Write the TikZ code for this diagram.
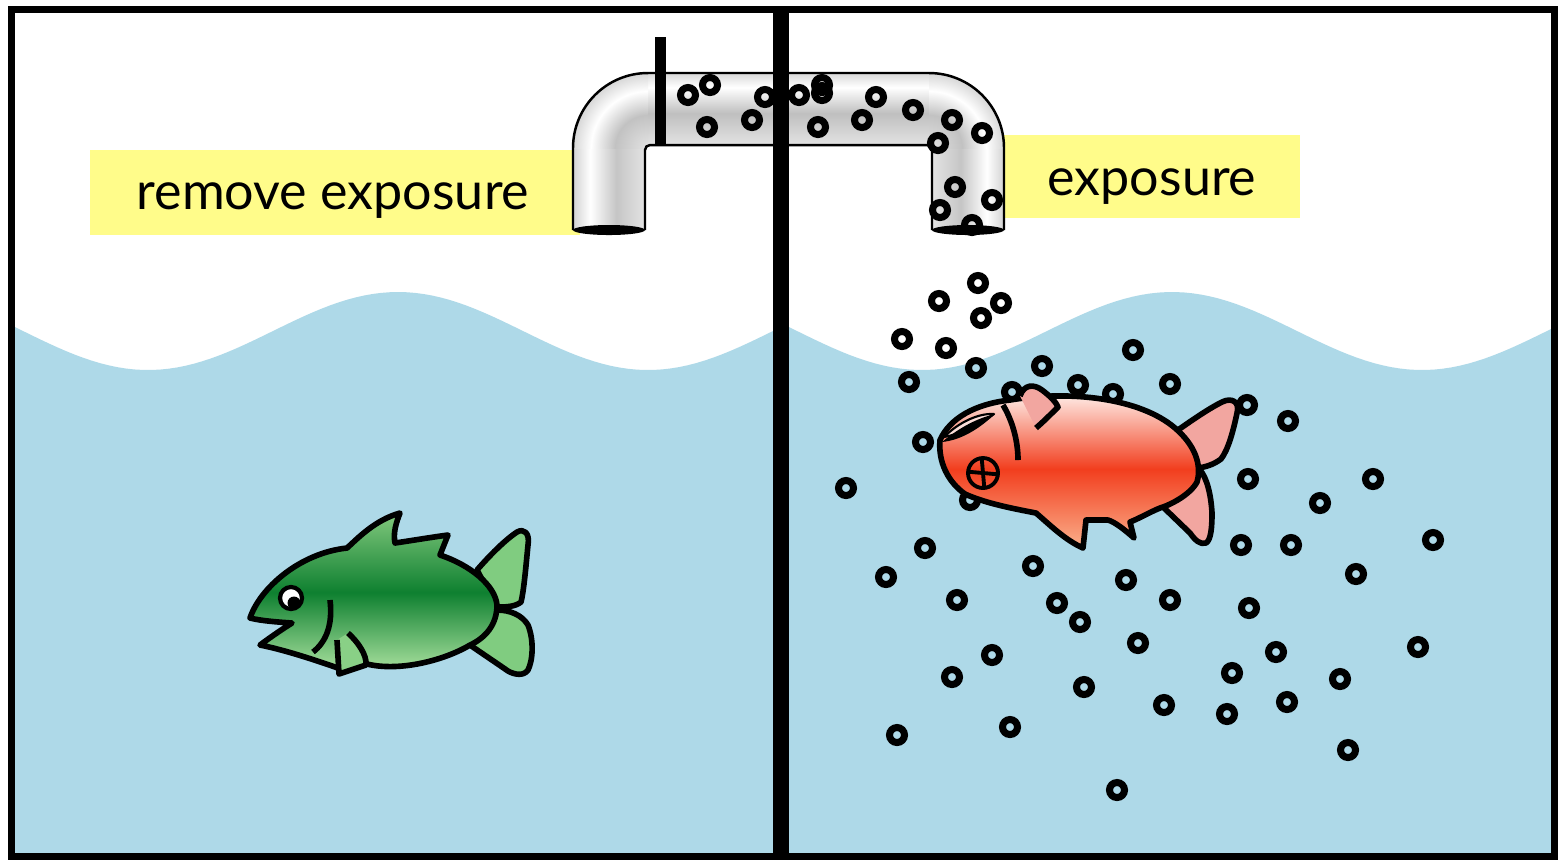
\documentclass[tikz,border=0pt]{standalone}
\usepackage{fontspec}
\setmainfont{Lato}
\usepackage{tikz}

\definecolor{water}{RGB}{174,217,232}
\definecolor{labelyellow}{RGB}{255,252,138}
\definecolor{greentop}{RGB}{130,200,125}
\definecolor{greenmid}{RGB}{14,128,48}
\definecolor{greenbottom}{RGB}{172,226,160}
\definecolor{greenfin}{RGB}{128,204,128}
\definecolor{redtop}{RGB}{255,246,242}
\definecolor{redmid}{RGB}{242,62,30}
\definecolor{redbottom}{RGB}{250,176,140}
\definecolor{pinkfin}{RGB}{242,166,160}

\pgfdeclareverticalshading{pipeflat}{100bp}{color(0bp)=(gray!22); color(25bp)=(gray!22); color(47bp)=(gray!50); color(65bp)=(white); color(75bp)=(gray!30); color(100bp)=(gray!30)}
\pgfdeclarehorizontalshading{pipeleft}{100bp}{color(0bp)=(gray!35); color(25bp)=(gray!35); color(37bp)=(white); color(55bp)=(gray!45); color(75bp)=(gray!22); color(100bp)=(gray!22)}
\pgfdeclarehorizontalshading{piperight}{100bp}{color(0bp)=(gray!22); color(25bp)=(gray!22); color(45bp)=(gray!45); color(63bp)=(white); color(75bp)=(gray!35); color(100bp)=(gray!35)}
\pgfdeclareradialshading{pipebend}{\pgfpoint{0bp}{0bp}}{color(0bp)=(gray!22); color(11bp)=(gray!48); color(19bp)=(white); color(25bp)=(gray!32); color(50bp)=(gray!32)}

\begin{document}
\begin{tikzpicture}[x=0.01cm, y=0.01cm]
\tikzstyle{every node}+=[inner sep=0pt]
\tikzstyle{bubble}=[black, line width=2pt]
\tikzstyle{fishline}=[black, line width=1.6pt, line join=round]
\tikzstyle{label}=[font=\fontsize{14.8}{18}\selectfont, anchor=base]
\useasboundingbox (0,0) rectangle (1558,-859);
\fill [white] (0,0) rectangle (1558,-859);
\fill [water] (15,-856) -- plot[domain=15:773, samples=90] (\x, {-331+39*cos(0.72*(\x-398))}) -- (773,-856) -- cycle;
\fill [water] (789,-856) -- plot[domain=789:1554, samples=90] (\x, {-331+39*cos(0.72*(\x-1172))}) -- (1554,-856) -- cycle;
\fill [labelyellow] (90,-150) rectangle (580,-235);
\fill [labelyellow] (1000,-135) rectangle (1300,-218);
\node [label] (removelabel) at (333,-209) {remove exposure};
\node [label] (exposurelabel) at (1152,-195) {exposure};
\begin{scope}
\clip (573,-230) -- (573,-148) arc (180:90:75) -- (929,-73) arc (90:0:75) -- (1004,-230) -- (932,-230) -- (932,-150) arc (0:90:5) -- (650,-145) arc (90:180:5) -- (645,-230) -- cycle;
\shade [shading=pipeflat] (648,-73) rectangle (929,-145);
\shade [shading=pipeleft] (573,-148) rectangle (645,-235);
\shade [shading=piperight] (932,-148) rectangle (1004,-235);
\begin{scope}
\clip (573,-73) rectangle (648,-148);
\shade [shading=pipebend] (648,-148) circle (75);
\end{scope}
\begin{scope}
\clip (929,-73) rectangle (1004,-148);
\shade [shading=pipebend] (929,-148) circle (75);
\end{scope}
\end{scope}
\draw [bubble] (688,-95) circle (7.5);
\draw [bubble] (710,-85) circle (7.5);
\draw [bubble] (707,-127) circle (7.5);
\draw [bubble] (752,-120) circle (7.5);
\draw [bubble] (765,-97) circle (7.5);
\draw [bubble] (799,-95) circle (7.5);
\draw [bubble] (822,-85) circle (7.5);
\draw [bubble] (822,-93) circle (7.5);
\draw [bubble] (818,-127) circle (7.5);
\draw [bubble] (862,-120) circle (7.5);
\draw [bubble] (876,-97) circle (7.5);
\draw [bubble] (913,-110) circle (7.5);
\draw [bubble] (952,-120) circle (7.5);
\draw [bubble] (982,-133) circle (7.5);
\draw [bubble] (938,-143) circle (7.5);
\draw [bubble] (955,-187) circle (7.5);
\draw [bubble] (940,-210) circle (7.5);
\draw [bubble] (992,-200) circle (7.5);
\draw [bubble] (972,-225) circle (7.5);
\fill [black] (609,-230) ellipse (36 and 5);
\fill [black] (968,-230) ellipse (36 and 5);
\draw [black, line width=0.7pt] (573,-230) -- (573,-148) arc (180:90:75) -- (929,-73) arc (90:0:75) -- (1004,-230);
\draw [black, line width=0.7pt] (932,-230) -- (932,-150) arc (0:90:5) -- (650,-145) arc (90:180:5) -- (645,-230);
\draw [bubble] (978,-283) circle (7.5);
\draw [bubble] (939,-301) circle (7.5);
\draw [bubble] (1001,-303) circle (7.5);
\draw [bubble] (981,-318) circle (7.5);
\draw [bubble] (902,-339) circle (7.5);
\draw [bubble] (946,-348) circle (7.5);
\draw [bubble] (1133,-350) circle (7.5);
\draw [bubble] (976,-368) circle (7.5);
\draw [bubble] (1042,-366) circle (7.5);
\draw [bubble] (909,-382) circle (7.5);
\draw [bubble] (1078,-385) circle (7.5);
\draw [bubble] (1170,-384) circle (7.5);
\draw [bubble] (1012,-392) circle (7.5);
\draw [bubble] (1113,-394) circle (7.5);
\draw [bubble] (1247,-405) circle (7.5);
\draw [bubble] (1288,-421) circle (7.5);
\draw [bubble] (923,-442) circle (7.5);
\draw [bubble] (970,-500) circle (7.5);
\draw [bubble] (846,-488) circle (7.5);
\draw [bubble] (1248,-479) circle (7.5);
\draw [bubble] (1373,-479) circle (7.5);
\draw [bubble] (1320,-503) circle (7.5);
\draw [bubble] (925,-548) circle (7.5);
\draw [bubble] (1241,-545) circle (7.5);
\draw [bubble] (1291,-545) circle (7.5);
\draw [bubble] (1433,-540) circle (7.5);
\draw [bubble] (886,-577) circle (7.5);
\draw [bubble] (1033,-566) circle (7.5);
\draw [bubble] (1126,-580) circle (7.5);
\draw [bubble] (1356,-574) circle (7.5);
\draw [bubble] (957,-600) circle (7.5);
\draw [bubble] (1057,-603) circle (7.5);
\draw [bubble] (1170,-600) circle (7.5);
\draw [bubble] (1249,-608) circle (7.5);
\draw [bubble] (1080,-622) circle (7.5);
\draw [bubble] (1138,-643) circle (7.5);
\draw [bubble] (1276,-652) circle (7.5);
\draw [bubble] (1418,-647) circle (7.5);
\draw [bubble] (992,-655) circle (7.5);
\draw [bubble] (952,-677) circle (7.5);
\draw [bubble] (1232,-673) circle (7.5);
\draw [bubble] (1340,-679) circle (7.5);
\draw [bubble] (1084,-687) circle (7.5);
\draw [bubble] (1164,-705) circle (7.5);
\draw [bubble] (1287,-702) circle (7.5);
\draw [bubble] (1227,-714) circle (7.5);
\draw [bubble] (1010,-727) circle (7.5);
\draw [bubble] (897,-735) circle (7.5);
\draw [bubble] (1348,-750) circle (7.5);
\draw [bubble] (1117,-790) circle (7.5);
\filldraw [fishline, fill=greenfin] (477,-570) .. controls (490,-555) and (505,-540) .. (517,-532) .. controls (524,-528) and (530,-533) .. (528,-545) .. controls (526,-565) and (524,-590) .. (521,-602) .. controls (515,-607) and (505,-607) .. (497,-607) -- cycle;
\filldraw [fishline, fill=greenfin] (497,-610) .. controls (510,-610) and (522,-615) .. (528,-625) .. controls (534,-640) and (533,-660) .. (528,-670) .. controls (524,-676) and (515,-675) .. (508,-671) .. controls (495,-662) and (480,-652) .. (470,-645) -- cycle;
\shade [top color=greentop, bottom color=greenbottom, middle color=greenmid] (250,-618) .. controls (260,-588) and (300,-553) .. (347,-548) .. controls (358,-538) and (375,-520) .. (400,-513) .. controls (396,-523) and (393,-533) .. (395,-543) .. controls (415,-540) and (433,-537) .. (448,-535) -- (440,-555) .. controls (470,-565) and (495,-585) .. (497,-605) .. controls (497,-625) and (485,-638) .. (470,-645) .. controls (445,-660) and (400,-672) .. (367,-664) -- (338,-668) .. controls (315,-660) and (285,-650) .. (260,-645) .. controls (272,-636) and (284,-628) .. (292,-623) .. controls (278,-622) and (262,-621) .. cycle;
\draw [fishline] (250,-618) .. controls (260,-588) and (300,-553) .. (347,-548) .. controls (358,-538) and (375,-520) .. (400,-513) .. controls (396,-523) and (393,-533) .. (395,-543) .. controls (415,-540) and (433,-537) .. (448,-535) -- (440,-555) .. controls (470,-565) and (495,-585) .. (497,-605) .. controls (497,-625) and (485,-638) .. (470,-645) .. controls (445,-660) and (400,-672) .. (367,-664) -- (338,-668) .. controls (315,-660) and (285,-650) .. (260,-645) .. controls (272,-636) and (284,-628) .. (292,-623) .. controls (278,-622) and (262,-621) .. cycle;
\fill [greenfin!80!greenbottom] (348,-633) .. controls (358,-642) and (367,-655) .. (366,-665) -- (339,-674) -- (337,-640);
\draw [fishline] (348,-633) .. controls (358,-642) and (367,-655) .. (366,-665) -- (339,-674) -- (337,-640);
\draw [fishline] (330,-600) .. controls (333,-625) and (326,-642) .. (313,-652);
\filldraw [fishline, fill=white, line width=1.2pt] (291,-598) circle (11);
\fill [black] (294,-603) circle (6.5);
\filldraw [fishline, fill=pinkfin] (1178,-430) .. controls (1195,-418) and (1210,-408) .. (1222,-402) .. controls (1232,-397) and (1240,-402) .. (1237,-413) .. controls (1233,-432) and (1228,-450) .. (1221,-459) .. controls (1213,-465) and (1205,-467) .. (1198,-468) -- cycle;
\filldraw [fishline, fill=pinkfin] (1200,-470) .. controls (1207,-478) and (1211,-495) .. (1212,-513) .. controls (1212,-527) and (1211,-540) .. (1206,-543) .. controls (1200,-545) and (1195,-540) .. (1190,-533) -- (1163,-507) -- cycle;
\shade [top color=redtop, bottom color=redbottom, middle color=redmid] (940,-440) .. controls (950,-418) and (975,-404) .. (1010,-400) .. controls (1070,-390) and (1140,-398) .. (1175,-428) .. controls (1195,-445) and (1202,-465) .. (1197,-482) .. controls (1190,-495) and (1170,-505) .. (1160,-508) .. controls (1150,-512) and (1140,-518) .. (1130,-522) -- (1134,-538) .. controls (1125,-530) and (1115,-522) .. (1108,-520) -- (1086,-520) -- (1083,-548) .. controls (1065,-540) and (1050,-525) .. (1036,-513) .. controls (1010,-508) and (985,-503) .. (965,-494) .. controls (948,-482) and (938,-462) .. cycle;
\draw [fishline] (940,-440) .. controls (950,-418) and (975,-404) .. (1010,-400) .. controls (1070,-390) and (1140,-398) .. (1175,-428) .. controls (1195,-445) and (1202,-465) .. (1197,-482) .. controls (1190,-495) and (1170,-505) .. (1160,-508) .. controls (1150,-512) and (1140,-518) .. (1130,-522) -- (1134,-538) .. controls (1125,-530) and (1115,-522) .. (1108,-520) -- (1086,-520) -- (1083,-548) .. controls (1065,-540) and (1050,-525) .. (1036,-513) .. controls (1010,-508) and (985,-503) .. (965,-494) .. controls (948,-482) and (938,-462) .. cycle;
\fill [pinkfin] (1020,-396) .. controls (1024,-384) and (1034,-384) .. (1042,-390) .. controls (1050,-396) and (1056,-402) .. (1058,-407) .. controls (1050,-415) and (1043,-422) .. (1036,-428);
\draw [fishline] (1020,-396) .. controls (1024,-384) and (1034,-384) .. (1042,-390) .. controls (1050,-396) and (1056,-402) .. (1058,-407) .. controls (1050,-415) and (1043,-422) .. (1036,-428);
\draw [fishline] (1003,-405) .. controls (1012,-420) and (1018,-440) .. (1018,-460);
\filldraw [fishline, fill=redtop!70!pinkfin, line width=0.6pt] (944,-437) .. controls (960,-421) and (980,-413) .. (994,-414) .. controls (978,-425) and (960,-434) .. cycle;
\fill [black] (942,-442) .. controls (960,-427) and (978,-418) .. (995,-414) .. controls (980,-428) and (962,-440) .. (942,-442);
\draw [fishline, line width=1.1pt] (983,-473) circle (15);
\draw [fishline, line width=1.1pt] (981.7,-458.1) -- (984.3,-487.9);
\draw [fishline, line width=1.1pt] (968.1,-471.7) -- (997.9,-474.3);
\fill [black] (655,-37) rectangle (666,-145);
\draw [black, line width=4.5pt] (781,-9) -- (781,-857);
\draw [black, line width=2pt] (11.5,-9.5) rectangle (1554.5,-856);
\end{tikzpicture}
\end{document}
